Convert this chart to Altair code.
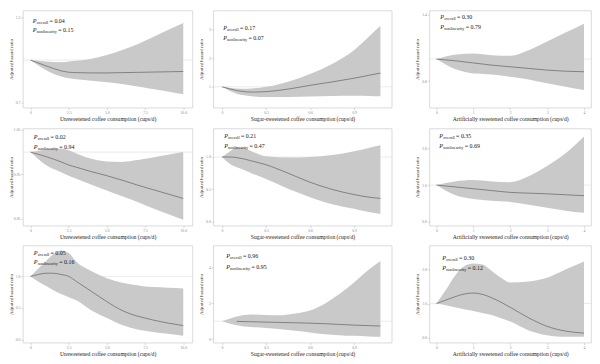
import altair as alt
import pandas as pd

FONT = "Liberation Serif"

# ---------------- data ----------------
T_UNS = "Unsweetened coffee consumption (cups/d)"
T_SUG = "Sugar-sweetened coffee consumption (cups/d)"
T_ART = "Artificially sweetened coffee consumption (cups/d)"

# Panel 1 (row 1, unsweetened)
p1_x = [0, 1, 2, 2.5, 3, 4, 5, 6, 7, 7.5, 8, 9, 10]
p1_hr = [1.0, 0.96, 0.925, 0.915, 0.912, 0.91, 0.91, 0.912, 0.914, 0.915, 0.916, 0.918, 0.92]
p1_lo = [1.0, 0.93, 0.885, 0.872, 0.865, 0.855, 0.845, 0.832, 0.815, 0.807, 0.798, 0.78, 0.76]
p1_hi = [1.0, 0.99, 0.985, 0.99, 0.995, 1.01, 1.035, 1.07, 1.11, 1.135, 1.16, 1.21, 1.26]

# Panel 2 (row 1, sugar-sweetened)
p2_x = [0, 0.05, 0.1, 0.15, 0.2, 0.3, 0.45, 0.6, 0.75, 0.9, 1.0, 1.08]
p2_hr = [1.0, 0.93, 0.87, 0.83, 0.815, 0.83, 0.92, 1.05, 1.17, 1.3, 1.4, 1.48]
p2_lo = [1.0, 0.86, 0.76, 0.7, 0.67, 0.64, 0.64, 0.66, 0.68, 0.69, 0.68, 0.67]
p2_hi = [1.0, 0.97, 0.94, 0.93, 0.94, 1.0, 1.18, 1.45, 1.8, 2.28, 2.75, 3.14]

# Panel 3 (row 1, artificially sweetened)
p3_x = [0, 0.5, 1, 1.5, 2, 2.5, 3, 3.5, 4]
p3_hr = [1.0, 0.985, 0.965, 0.945, 0.93, 0.915, 0.9, 0.89, 0.885]
p3_lo = [1.0, 0.91, 0.87, 0.86, 0.84, 0.815, 0.78, 0.75, 0.72]
p3_hi = [1.0, 1.04, 1.05, 1.035, 1.03, 1.08, 1.16, 1.24, 1.32]

# Panel 4 (row 2, unsweetened)
p4_x = [0, 1, 2, 2.5, 3, 4, 5, 6, 7, 7.5, 8, 9, 10]
p4_hr = [1.0, 0.99, 0.978, 0.971, 0.966, 0.956, 0.947, 0.937, 0.926, 0.921, 0.916, 0.906, 0.896]
p4_lo = [1.0, 0.971, 0.955, 0.947, 0.94, 0.927, 0.914, 0.901, 0.888, 0.881, 0.874, 0.861, 0.848]
p4_hi = [1.0, 1.006, 1.008, 1.004, 0.997, 0.985, 0.979, 0.978, 0.982, 0.985, 0.988, 0.994, 1.0]

# Panel 5 (row 2, sugar-sweetened)
p5_x = [0, 0.05, 0.1, 0.15, 0.2, 0.3, 0.45, 0.6, 0.75, 0.9, 1.0, 1.08]
p5_hr = [1.0, 1.0, 0.99, 0.97, 0.94, 0.88, 0.75, 0.61, 0.5, 0.42, 0.38, 0.36]
p5_lo = [1.0, 0.9, 0.84, 0.8, 0.75, 0.66, 0.51, 0.38, 0.27, 0.2, 0.15, 0.12]
p5_hi = [1.0, 1.08, 1.15, 1.14, 1.09, 1.01, 0.99, 1.0, 1.03, 1.09, 1.14, 1.18]

# Panel 6 (row 2, artificially sweetened)
p6_x = [0, 0.5, 1, 1.5, 2, 2.5, 3, 3.5, 4]
p6_hr = [1.0, 0.95, 0.9, 0.85, 0.8, 0.78, 0.76, 0.735, 0.71]
p6_lo = [1.0, 0.73, 0.62, 0.57, 0.54, 0.46, 0.38, 0.3, 0.24]
p6_hi = [1.0, 1.1, 1.14, 1.1, 1.08, 1.24, 1.52, 1.87, 2.33]

# Panel 7 (row 3, unsweetened)
p7_x = [0, 0.5, 1, 1.5, 2, 2.5, 3, 4, 5, 6, 7, 7.5, 8, 9, 10]
p7_hr = [1.0, 1.03, 1.05, 1.05, 1.03, 1.0, 0.92, 0.76, 0.6, 0.46, 0.37, 0.34, 0.31, 0.26, 0.22]
p7_lo = [1.0, 0.92, 0.85, 0.78, 0.72, 0.67, 0.62, 0.46, 0.34, 0.23, 0.16, 0.14, 0.12, 0.09, 0.06]
p7_hi = [1.0, 1.12, 1.24, 1.35, 1.41, 1.37, 1.23, 1.08, 0.97, 0.9, 0.86, 0.84, 0.83, 0.82, 0.81]

# Panel 8 (row 3, sugar-sweetened)
p8_x = [0, 0.1, 0.2, 0.3, 0.4, 0.5, 0.6, 0.7, 0.8, 0.9, 1.0, 1.08]
p8_hr = [None, 0.99, 0.97, 0.95, 0.93, 0.91, 0.89, 0.86, 0.82, 0.78, 0.75, 0.73]
p8_lo = [1.0, 0.78, 0.67, 0.62, 0.55, 0.46, 0.37, 0.27, 0.22, 0.18, 0.15, 0.13]
p8_hi = [1.0, 1.27, 1.38, 1.35, 1.34, 1.43, 1.6, 1.98, 2.52, 3.17, 3.88, 4.37]

# Panel 9 (row 3, artificially sweetened)
p9_x = [0, 0.25, 0.5, 0.75, 1, 1.25, 1.5, 1.75, 2, 2.5, 3, 3.5, 4]
p9_hr = [1.0, 1.1, 1.2, 1.28, 1.31, 1.27, 1.17, 1.04, 0.89, 0.58, 0.33, 0.19, 0.13]
p9_lo = [1.0, 0.95, 0.89, 0.83, 0.78, 0.72, 0.66, 0.57, 0.47, 0.21, 0.07, 0.02, 0.02]
p9_hi = [1.0, 1.39, 1.81, 2.1, 2.18, 2.15, 1.96, 1.76, 1.62, 1.65, 1.76, 2.0, 2.24]

# p-values: (overall, nonlinearity)
p_values = [("0.04", "0.15"), ("0.17", "0.07"), ("0.30", "0.79"),
            ("0.02", "0.94"), ("0.21", "0.47"), ("0.35", "0.69"),
            ("0.05", "0.16"), ("0.96", "0.95"), ("0.30", "0.12")]

# tick values per column type
x_ticks_uns = [0, 2.5, 5, 7.5, 10]
x_ticks_sug = [0, 0.3, 0.6, 0.9]
x_ticks_art = [0, 1, 2, 3, 4]

y_ticks = [[0.7, 0.9, 1.1, 1.3], [1, 2, 3], [0.8, 1.0, 1.2, 1.4],
           [0.85, 0.9, 0.95, 1.0, 1.05], [0.0, 0.5, 1.0], [0.0, 0.5, 1.0, 1.5, 2.0, 2.5],
           [0.0, 0.5, 1.0], [0, 1, 2, 3, 4, 5], [0.0, 0.5, 1.0, 1.5, 2.0, 2.5]]
y_fmt = [".1f", "d", ".1f", ".2f", ".1f", ".1f", ".1f", "d", ".1f"]
y_dom = [[0.667, 1.347], [0.27, 3.67], [0.56, 1.44],
         [0.835, 1.053], [-0.06, 1.44], [-0.11, 2.55],
         [-0.05, 1.49], [-0.2, 5.24], [-0.15, 2.71]]

# ---------------- layout / style ----------------
COL_W = [171, 180, 163]
ROW_H = 98
X_DOM = {"uns": [-0.5, 10.6], "sug": [-0.06, 1.157], "art": [-0.19, 4.19]}
ann_pos = [(10, 11, 20), (10, 18, 28), (11, 7, 17),
           (11, 9, 19), (11, 8, 18), (10, 8, 18),
           (11, 8, 17), (13, 11, 22), (13, 13, 23)]
SUB_W = {"overall": 11.6, "nonlinearity": 20.3}

one = pd.DataFrame({"k": [0]})


def text_layer(txt, px, py, size, italic=False):
    kw = dict(text=txt, font=FONT, fontSize=size, align="left", baseline="middle", color="#1a1a1a")
    if italic:
        kw["fontStyle"] = "italic"
    return alt.Chart(one).mark_text(**kw).encode(x=alt.value(px), y=alt.value(py))


def p_layers(dx, dy, sub, val):
    return [
        text_layer("P", dx, dy, 6.2, italic=True),
        text_layer(sub, dx + 3.9, dy + 1.6, 4.2),
        text_layer("= " + val, dx + 3.9 + SUB_W[sub] + 1.4, dy, 6),
    ]


def panel(i, x, hr, lo, hi, kind, col):
    df = pd.DataFrame({"x": x, "hr": hr, "lo": lo, "hi": hi})
    xticks = {"uns": x_ticks_uns, "sug": x_ticks_sug, "art": x_ticks_art}[kind]
    xtitle = {"uns": T_UNS, "sug": T_SUG, "art": T_ART}[kind]
    xs = alt.Scale(domain=X_DOM[kind], nice=False, zero=False)
    ys = alt.Scale(domain=y_dom[i], nice=False, zero=False)
    if kind == "art":
        xaxis = alt.Axis(values=xticks, format="d", title=xtitle)
    else:
        xaxis = alt.Axis(values=xticks, title=xtitle,
                         labelExpr="datum.value == 0 ? '0' : format(datum.value, '.1f')")
    yaxis = alt.Axis(values=y_ticks[i], format=y_fmt[i], title="Adjusted hazard ratio")

    ref = alt.Chart(one).mark_rule(color="#dedede", strokeWidth=0.6).encode(y=alt.datum(1))
    band = alt.Chart(df).mark_area(color="#c9c9c9", interpolate="monotone").encode(
        x=alt.X("x:Q", scale=xs, axis=xaxis),
        y=alt.Y("lo:Q", scale=ys, axis=yaxis),
        y2="hi:Q",
    )
    line = alt.Chart(df).mark_line(color="#6f6f6f", strokeWidth=0.8, interpolate="monotone").encode(
        x="x:Q", y="hr:Q"
    )
    layers = [ref, band, line]
    dx, dy1, dy2 = ann_pos[i]
    layers += p_layers(dx, dy1, "overall", p_values[i][0])
    layers += p_layers(dx, dy2, "nonlinearity", p_values[i][1])
    if col == 2:
        ghost = alt.Chart(one).mark_rule(color="white", strokeWidth=1).encode(
            x=alt.value(-31), x2=alt.value(-30), y=alt.value(5)
        )
        layers.append(ghost)
    return alt.layer(*layers).properties(width=COL_W[col], height=ROW_H)


specs = [
    (p1_x, p1_hr, p1_lo, p1_hi, "uns"), (p2_x, p2_hr, p2_lo, p2_hi, "sug"), (p3_x, p3_hr, p3_lo, p3_hi, "art"),
    (p4_x, p4_hr, p4_lo, p4_hi, "uns"), (p5_x, p5_hr, p5_lo, p5_hi, "sug"), (p6_x, p6_hr, p6_lo, p6_hi, "art"),
    (p7_x, p7_hr, p7_lo, p7_hi, "uns"), (p8_x, p8_hr, p8_lo, p8_hi, "sug"), (p9_x, p9_hr, p9_lo, p9_hi, "art"),
]

panels = [panel(i, *s[:4], s[4], i % 3) for i, s in enumerate(specs)]
rows = [alt.hconcat(*panels[r * 3:(r + 1) * 3], spacing=5) for r in range(3)]

chart = alt.vconcat(*rows, spacing=4).properties(
    padding=0, background="white"
).configure_view(
    stroke="#d2d2d2", strokeWidth=0.8
).configure_axis(
    grid=False, domain=False,
    labelFont=FONT, titleFont=FONT,
    labelColor="#8a8a8a", titleColor="#1e1e1e",
    tickColor="#bdbdbd", tickSize=2, tickWidth=0.6,
    labelFontSize=3.8, labelPadding=1,
    labelOverlap=False, labelFlush=False,
    titleFontWeight="normal",
).configure_axisX(
    titleFontSize=5.7, titlePadding=2, minExtent=6, maxExtent=6,
).configure_axisY(
    titleFontSize=4.8, titlePadding=1.5, minExtent=8, maxExtent=8,
)

chart.save("out.html", embed_options={"renderer": "svg", "actions": False})
